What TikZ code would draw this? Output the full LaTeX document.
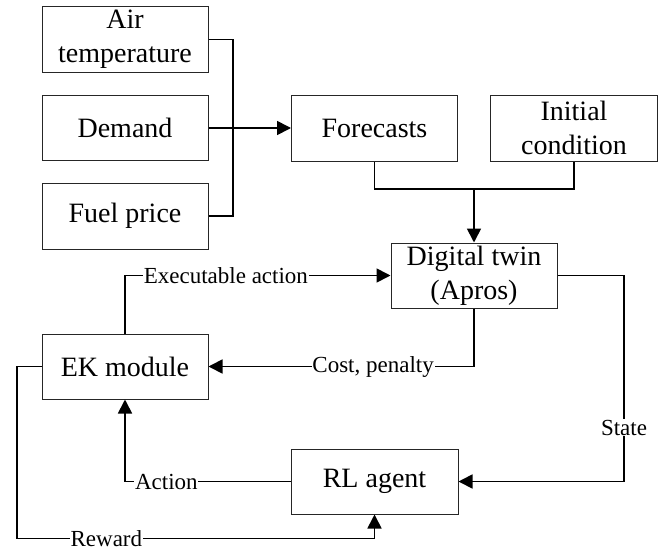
\documentclass[tikz,border=0pt]{standalone}
\usepackage{fontspec}
\setmainfont{Liberation Serif}
\usetikzlibrary{arrows.meta}

\tikzset{
  block/.style={draw=black!85, line width=1pt, minimum width=166pt, minimum height=65pt,
    align=center, inner sep=0pt, font=\fontsize{28}{34}\selectfont},
  link/.style={line width=1.7pt, black},
  flow/.style={link, -{Triangle[length=14pt,width=14pt]}},
  lbl/.style={fill=white, inner sep=0.8pt, font=\fontsize{23}{27}\selectfont}
}

\begin{document}
\begin{tikzpicture}[x=1pt, y=-1pt]
  \useasboundingbox (0,0) rectangle (666,551);

  % inputs
  \node[block] (air) at (125,39.5) {Air\\temperature};
  \node[block] (demand) at (125,128) {Demand};
  \node[block, minimum height=66pt] (fuel) at (125,216) {Fuel price};

  % forecasting stage
  \node[block, minimum height=66pt] (fc) at (374.5,128) {Forecasts};
  \node[block, minimum width=167pt, minimum height=66pt] (init) at (574,128) {Initial\\condition};

  % simulation and control loop
  \node[block] (dt) at (474,275.5) {Digital twin\\(Apros)};
  \node[block] (ek) at (125,366.5) {EK module};
  \node[block, minimum width=167pt] (rl) at (374.5,481.5) {RL agent};

  \coordinate (bus) at (233,128);
  \coordinate (join) at (474,189);
  \coordinate (sx) at (624,0);
  \coordinate (rw) at (17,538.5);

  % inputs merge into forecasts
  \draw[link] (air.east) -| (bus) |- (fuel.east);
  \draw[flow] (demand.east) -- (fc.west);

  % forecasts and initial condition feed the digital twin
  \draw[link] (fc.south) |- (join) -| (init.south);
  \draw[flow] (join) -- (dt.north);

  % loop
  \draw[flow] (ek.north) |- node[lbl, pos=0.69] {Executable action} (dt.west);
  \draw[flow] (dt.south) |- node[lbl, pos=0.69] {Cost, penalty} (ek.east);
  \draw[flow] (dt.east) -- (dt.east -| sx) -- node[lbl, pos=0.74] {State} (rl.east -| sx) -- (rl.east);
  \draw[flow] (rl.west) -| node[lbl, pos=0.375] {Action} (ek.south);
  \draw[flow] (ek.west) -| (rw) -- node[lbl, pos=0.25] {Reward} (rw -| rl.south) -- (rl.south);
\end{tikzpicture}
\end{document}
